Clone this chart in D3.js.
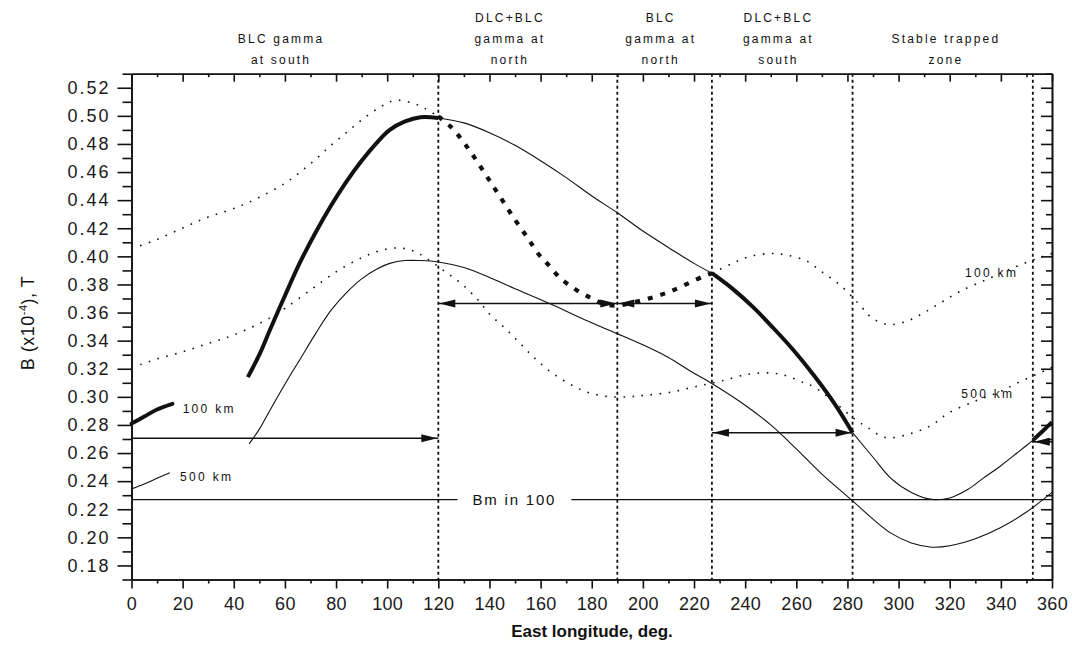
<!DOCTYPE html>
<html>
<head>
<meta charset="utf-8">
<script src="https://cdn.jsdelivr.net/npm/d3@7"></script>
<style>
  html, body { margin: 0; padding: 0; background: #fff; }
  svg { display: block; }
</style>
</head>
<body>
<svg id="chart" width="1072" height="652"></svg>
<script>
// ---------------- DATA ----------------
// Longitude ticks and B ticks
const xTicks = d3.range(0, 361, 20);
const xMinorTicks = d3.range(10, 360, 20);
const yTicks = [0.18,0.20,0.22,0.24,0.26,0.28,0.30,0.32,0.34,0.36,0.38,0.40,0.42,0.44,0.46,0.48,0.50,0.52];
const yMinorTicks = [0.17,0.19,0.21,0.23,0.25,0.27,0.29,0.31,0.33,0.35,0.37,0.39,0.41,0.43,0.45,0.47,0.49,0.51,0.53];

// 100 km, local point (solid, highlighted portions thick)
const b100Start = [[0,0.281],[5,0.286],[10,0.291],[16,0.295]];
const b100Rise = [[45.5,0.314],[50,0.330],[54,0.347],[60,0.372],[66,0.396],[72,0.417],[78,0.436],[84,0.453],[90,0.468],[96,0.481],[101,0.490],[107,0.496],[113,0.499],[120,0.4985]];
const b100Mid = [[120,0.4985],[130,0.495],[140,0.488],[150,0.479],[160,0.468],[170,0.456],[180,0.443],[190,0.431],[200,0.418],[212,0.404],[220,0.395],[227,0.388]];
const b100Fall = [[227,0.388],[235,0.377],[243,0.364],[251,0.349],[259,0.333],[267,0.315],[275,0.295],[282,0.2745]];
const b100Trap = [[282,0.2745],[290,0.257],[297,0.242],[305,0.232],[313,0.227],[320,0.228],[327,0.234],[333,0.242],[340,0.251],[347,0.261],[352.5,0.269]];
const b100End = [[352.5,0.269],[356,0.275],[360,0.282]];

// 500 km, local point (thin solid)
const b500Start = [[0,0.2345],[5,0.238],[10,0.242],[15,0.246]];
const b500Main = [[46,0.2665],[50,0.277],[54,0.290],[60,0.309],[66,0.327],[72,0.345],[78,0.3615],[84,0.374],[90,0.384],[96,0.391],[101,0.395],[107,0.397],[113,0.397],[120,0.396],[130,0.392],[140,0.385],[150,0.377],[164,0.366],[177,0.355],[190,0.345],[200,0.337],[210,0.328],[218,0.319],[226.5,0.310],[240,0.294],[250,0.280],[260,0.263],[270,0.245],[282,0.226],[290,0.213],[297,0.203],[305,0.196],[313,0.193],[320,0.194],[330,0.199],[340,0.207],[350,0.218],[360,0.232]];

// 100 km, conjugate point (dotted, highlighted portion thick dotted)
const c100West = [[0,0.4055],[10,0.412],[21,0.421],[30,0.428],[40,0.434],[50,0.442],[60,0.452],[66,0.460],[72,0.469],[78,0.479],[84,0.488],[90,0.497],[97,0.506],[103,0.511],[110,0.509],[115,0.505],[120,0.4995]];
const c100Thick = [[120,0.4995],[125,0.492],[130,0.481],[135,0.468],[140,0.454],[145,0.440],[150,0.426],[155,0.413],[159,0.402],[163,0.394],[168,0.384],[174,0.376],[180,0.370],[185,0.366],[190,0.365],[196,0.367],[206,0.372],[212,0.376],[218,0.381],[224,0.386],[227,0.388]];
const c100East = [[227,0.388],[235,0.395],[242,0.400],[250,0.402],[256,0.401],[263.7,0.397],[270,0.389],[277.5,0.379],[286,0.363],[289,0.357],[295.6,0.3515],[303.5,0.354],[310,0.360],[316.5,0.367],[324,0.375],[335,0.384],[345,0.392],[355,0.399],[360,0.402]];

// 500 km, conjugate point (dotted)
const c500 = [[0,0.321],[3.5,0.323],[10,0.327],[20,0.332],[30,0.338],[40,0.344],[54,0.356],[60,0.363],[70,0.376],[80,0.389],[90,0.399],[97,0.404],[104,0.406],[110,0.404],[115,0.399],[122,0.390],[128.7,0.381],[135,0.370],[140,0.359],[146,0.349],[152,0.338],[158,0.327],[164.5,0.317],[172.5,0.308],[178.8,0.303],[186,0.3003],[194,0.300],[200,0.301],[210,0.303],[220,0.307],[230,0.311],[241,0.316],[250,0.317],[256,0.315],[263,0.310],[267,0.307],[275,0.296],[283,0.284],[288,0.278],[295,0.271],[305,0.274],[312,0.279],[315.5,0.283],[319,0.288],[330,0.297],[340,0.304],[346.6,0.310],[357.6,0.319],[360,0.321]];

// Zone boundaries (deg) and horizontal arrows
const zoneBounds = [120, 190, 227, 282, 352.5];
const arrowFrom = [0, 120, 190, 227, 352.5];
const arrowTo = [120, 190, 227, 282, 360];
const arrowB = [0.2705, 0.3665, 0.3665, 0.2745, 0.268];
const arrowHeads = ["end", "both", "both", "both", "start"];

// Bm level line
const bmLevel = 0.2268;
const bmLabel = "Bm in 100";
const bmGap = [127.5, 172];

// Zone titles
const zoneTitles = [
  {lon: 58.5, lines: ["", "BLC gamma", "at south"]},
  {lon: 148, lines: ["DLC+BLC", "gamma at", "north"]},
  {lon: 207, lines: ["BLC", "gamma at", "north"]},
  {lon: 253, lines: ["DLC+BLC", "gamma at", "south"]},
  {lon: 318.5, lines: ["", "Stable trapped", "zone"]}
];

// Curve labels [lon, B, text]
const curveLabels = [[20, 0.2915, "100 km"], [19, 0.2435, "500 km"], [326, 0.3885, "100 km"], [324.5, 0.3025, "500 km"]];

// ---------------- DRAW ----------------
const svg = d3.select("#chart");
const x = d3.scaleLinear().domain([0, 360]).range([131.5, 1052]);
const y = d3.scaleLinear().domain([0.17, 0.53]).range([579.5, 73.7]);

const line = d3.line().x(d => x(d[0])).y(d => y(d[1])).curve(d3.curveCatmullRom.alpha(0.5));

const ink = "#111";

// Vertical dashed zone boundaries
svg.append("g").selectAll("line").data(zoneBounds).join("line")
  .attr("x1", d => x(d)).attr("x2", d => x(d))
  .attr("y1", y(0.53)).attr("y2", y(0.17))
  .attr("stroke", ink).attr("stroke-width", 1.8).attr("stroke-dasharray", "3,3");

// Bm line
svg.append("line").attr("x1", x(0)).attr("x2", x(bmGap[0])).attr("y1", y(bmLevel)).attr("y2", y(bmLevel))
  .attr("stroke", ink).attr("stroke-width", 1.3);
svg.append("line").attr("x1", x(bmGap[1])).attr("x2", x(360)).attr("y1", y(bmLevel)).attr("y2", y(bmLevel))
  .attr("stroke", ink).attr("stroke-width", 1.3);
svg.append("text").attr("x", x((bmGap[0] + bmGap[1]) / 2)).attr("y", y(bmLevel) + 5.5)
  .attr("text-anchor", "middle").attr("font-family", "Liberation Sans, Arial, sans-serif")
  .attr("font-size", 15).attr("letter-spacing", 1.8).attr("fill", ink).text(bmLabel);

// Curves
function draw(data, width, dash) {
  const p = svg.append("path").datum(data).attr("d", line)
    .attr("fill", "none").attr("stroke", ink).attr("stroke-width", width)
    .attr("stroke-linejoin", "round");
  if (dash) p.attr("stroke-dasharray", dash);
  return p;
}
// thin dotted conjugate curves
draw(c100West, 1.6, "1.6,7.5");
draw(c100East, 1.6, "1.6,7.5");
draw(c500, 1.6, "1.6,7.5");
// thick dotted
draw(c100Thick, 4.2, "5,8");
// thin solid
draw(b100Mid, 1.1);
draw(b100Trap, 1.1);
draw(b500Start, 1.1);
draw(b500Main, 1.1);
// thick solid
draw(b100Start, 4).attr("stroke-linecap", "round");
draw(b100Rise, 4);
draw(b100Fall, 4);
draw(b100End, 4);

// Horizontal arrows
function head(px, py, dir) {
  const L = 16, H = 4;
  return `M${px},${py} L${px - dir * L},${py - H} L${px - dir * L},${py + H} Z`;
}
arrowFrom.forEach((f, i) => {
  const yy = y(arrowB[i]);
  const x1 = x(f), x2 = x(arrowTo[i]);
  svg.append("line").attr("x1", x1).attr("x2", x2).attr("y1", yy).attr("y2", yy)
    .attr("stroke", ink).attr("stroke-width", 1.5);
  if (arrowHeads[i] === "end" || arrowHeads[i] === "both")
    svg.append("path").attr("d", head(x2 - 1, yy, 1)).attr("fill", ink);
  if (arrowHeads[i] === "start" || arrowHeads[i] === "both")
    svg.append("path").attr("d", head(x1 + 1, yy, -1)).attr("fill", ink);
});

// Axes
const axisFont = "Liberation Sans, Arial, sans-serif";
function styleAxis(g) {
  g.select(".domain").attr("stroke", ink).attr("stroke-width", 1.6);
  g.selectAll(".tick line").attr("stroke", ink).attr("stroke-width", 1.6);
  g.selectAll("text").attr("font-family", axisFont).attr("font-size", 18).attr("fill", "#1a1a1a");
}
// bottom
const gB = svg.append("g").attr("transform", `translate(0,${y(0.17)})`)
  .call(d3.axisBottom(x).tickValues(xTicks).tickSize(9).tickPadding(8.5).tickSizeOuter(0).tickFormat(d3.format("d")));
styleAxis(gB);
gB.selectAll("text").attr("letter-spacing", 0.3);
const gBm = svg.append("g").attr("transform", `translate(0,${y(0.17)})`)
  .call(d3.axisBottom(x).tickValues(xMinorTicks).tickSize(4).tickSizeOuter(0).tickFormat(""));
styleAxis(gBm);
// top
const gT = svg.append("g").attr("transform", `translate(0,${y(0.53)})`)
  .call(d3.axisBottom(x).tickValues(xTicks).tickSize(8).tickSizeOuter(0).tickFormat(""));
styleAxis(gT);
const gTm = svg.append("g").attr("transform", `translate(0,${y(0.53)})`)
  .call(d3.axisBottom(x).tickValues(xMinorTicks).tickSize(3.5).tickSizeOuter(0).tickFormat(""));
styleAxis(gTm);
// left
const gL = svg.append("g").attr("transform", `translate(${x(0)},0)`)
  .call(d3.axisLeft(y).tickValues(yTicks).tickSize(14).tickPadding(7).tickSizeOuter(0).tickFormat(d3.format(".2f")));
styleAxis(gL);
gL.selectAll("text").attr("letter-spacing", 2);
const gLm = svg.append("g").attr("transform", `translate(${x(0)},0)`)
  .call(d3.axisLeft(y).tickValues(yMinorTicks).tickSize(9).tickSizeOuter(0).tickFormat(""));
styleAxis(gLm);
// right
const gR = svg.append("g").attr("transform", `translate(${x(360)},0)`)
  .call(d3.axisRight(y).tickValues(yTicks).tickSize(-11).tickSizeOuter(0).tickFormat(""));
styleAxis(gR);
const gRm = svg.append("g").attr("transform", `translate(${x(360)},0)`)
  .call(d3.axisRight(y).tickValues(yMinorTicks).tickSize(-6).tickSizeOuter(0).tickFormat(""));
styleAxis(gRm);

// Axis titles
svg.append("text").attr("x", 592).attr("y", 637).attr("text-anchor", "middle")
  .attr("font-family", axisFont).attr("font-weight", "bold").attr("font-size", 17)
  .attr("fill", ink).text("East longitude, deg.");
const yt = svg.append("text").attr("transform", "translate(34,323) rotate(-90)")
  .attr("text-anchor", "middle").attr("font-family", axisFont).attr("font-size", 18)
  .attr("letter-spacing", 0.5).attr("fill", ink);
yt.append("tspan").text("B (x10");
yt.append("tspan").attr("font-size", 11).attr("dy", -7).text("-4");
yt.append("tspan").attr("dy", 7).text("), T");

// Zone titles
const titleBase = [22, 43, 64];
zoneTitles.forEach(t => {
  t.lines.forEach((s, i) => {
    if (!s) return;
    svg.append("text").attr("x", x(t.lon)).attr("y", titleBase[i]).attr("text-anchor", "middle")
      .attr("font-family", axisFont).attr("font-size", 12).attr("letter-spacing", 2.2)
      .attr("fill", ink).text(s);
  });
});

// Curve labels
curveLabels.forEach(c => {
  svg.append("text").attr("x", x(c[0])).attr("y", y(c[1]) + 4.5)
    .attr("font-family", axisFont).attr("font-size", 12).attr("letter-spacing", 2.3)
    .attr("fill", ink).text(c[2]);
});
</script>
</body>
</html>
